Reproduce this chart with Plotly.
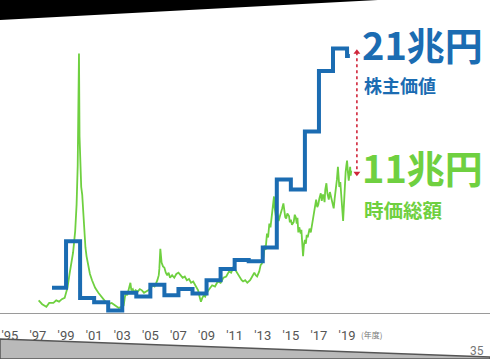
import plotly.graph_objects as go

# ---- data (兆円) ----
fiscal_years = [1998, 1999, 2000, 2001, 2002, 2003, 2004, 2005, 2006, 2007, 2008,
                2009, 2010, 2011, 2012, 2013, 2014, 2015, 2016, 2017, 2018, 2019, 2019.2]
shareholder_value = [2.0, 5.7, 1.2, 0.85, 0.2, 1.6, 1.3, 2.25, 1.4, 1.9, 1.55,
                     2.6, 3.5, 4.2, 4.1, 5.2, 10.6, 9.8, 14.4, 19.2, 21.0, 20.4, 20.4]

mcap_dates = [
    1997.05, 1997.3, 1997.6, 1997.8, 1998.1, 1998.3, 1998.5, 1998.7, 1998.9,
    1999.1, 1999.25, 1999.5, 1999.65, 1999.75, 1999.83, 1999.88, 1999.92, 1999.96,
    2000.02, 2000.08, 2000.15, 2000.22, 2000.3, 2000.38, 2000.46, 2000.58, 2000.7,
    2000.85, 2001.07, 2001.3, 2001.57, 2001.8, 2002.0, 2002.25, 2002.5, 2002.75,
    2003.0, 2003.1, 2003.18, 2003.25, 2003.35, 2003.45, 2003.52, 2003.58, 2003.65,
    2003.75, 2003.83, 2003.95, 2004.1, 2004.25, 2004.4, 2004.55, 2004.7, 2004.85,
    2005.0, 2005.15, 2005.3, 2005.42, 2005.5, 2005.6, 2005.64, 2005.71, 2005.76,
    2005.8, 2005.9, 2006.0, 2006.1, 2006.2, 2006.3, 2006.4, 2006.55, 2006.7,
    2006.85, 2007.0, 2007.15, 2007.3, 2007.45, 2007.6, 2007.75, 2007.9, 2008.05,
    2008.2, 2008.3, 2008.4, 2008.5, 2008.6, 2008.7, 2008.8, 2008.9, 2009.0,
    2009.2, 2009.4, 2009.6, 2009.8, 2010.0, 2010.2, 2010.4, 2010.6, 2010.75,
    2010.9, 2011.0, 2011.1, 2011.25, 2011.4, 2011.5, 2011.6, 2011.75, 2011.9,
    2012.0, 2012.1, 2012.25, 2012.4, 2012.5, 2012.6, 2012.75, 2012.85, 2012.93,
    2013.0, 2013.07, 2013.13, 2013.2, 2013.3, 2013.38, 2013.47, 2013.55, 2013.65,
    2013.72, 2013.8, 2013.84, 2013.87, 2013.93, 2014.0, 2014.06, 2014.13, 2014.2,
    2014.3, 2014.38, 2014.47, 2014.53, 2014.6, 2014.67, 2014.75, 2014.87, 2014.93,
    2015.0, 2015.08, 2015.2, 2015.28, 2015.35, 2015.42, 2015.47, 2015.53, 2015.6,
    2015.7, 2015.75, 2015.8, 2015.87, 2015.93, 2016.0, 2016.07, 2016.13, 2016.2,
    2016.27, 2016.33, 2016.42, 2016.53, 2016.6, 2016.65, 2016.72, 2016.8, 2016.88,
    2016.95, 2017.03, 2017.13, 2017.2, 2017.27, 2017.33, 2017.4, 2017.45, 2017.53,
    2017.6, 2017.7, 2017.78, 2017.87, 2017.95, 2018.05, 2018.12, 2018.2, 2018.28,
    2018.35, 2018.4, 2018.45, 2018.52, 2018.6, 2018.66, 2018.72, 2018.76, 2018.8,
    2018.85, 2018.9, 2018.95, 2019.0, 2019.06, 2019.12, 2019.17, 2019.22, 2019.26,
    2019.3]
market_cap = [
    1.0, 0.7, 0.5, 0.8, 0.8, 1.0, 0.9, 1.1, 1.2,
    2.0, 3.1, 4.8, 6.5, 8.6, 11.7, 15.0, 20.6, 14.0,
    11.5, 10.0, 9.4, 7.8, 6.4, 5.2, 4.5, 3.6, 3.1,
    2.6, 2.0, 1.6, 1.2, 0.9, 0.7, 0.8, 0.6, 0.4,
    0.5, 0.6, 1.2, 1.6, 1.4, 1.9, 2.0, 2.4, 1.8,
    1.9, 1.6, 1.8, 1.7, 1.9, 1.8, 1.6, 1.7, 1.8,
    1.9, 2.2, 2.1, 2.4, 2.6, 3.0, 3.5, 5.1, 4.2,
    4.0, 3.7, 3.6, 3.2, 3.0, 3.2, 2.8, 3.0, 2.8,
    3.1, 3.2, 3.0, 2.8, 2.9, 2.6, 2.7, 2.4, 2.5,
    2.2, 2.0, 1.8, 1.3, 0.9, 1.2, 1.4, 1.3, 1.6,
    1.9, 2.2, 2.1, 2.5, 2.4, 2.8, 2.9, 3.3, 3.2,
    3.6, 3.5, 3.3, 3.0, 2.8, 2.6, 2.5, 2.6, 2.4,
    2.5, 2.6, 2.9, 3.2, 3.0, 2.9, 3.3, 3.8, 3.9,
    4.1, 4.6, 5.35, 5.0, 6.3, 6.0, 7.1, 6.8, 8.0,
    8.6, 9.25, 8.4, 8.2, 7.5, 7.2, 7.8, 7.3, 7.6,
    7.9, 8.3, 8.7, 7.9, 7.6, 7.5, 7.9, 7.7, 7.2,
    7.4, 7.0, 7.2, 7.8, 7.6, 7.1, 7.55, 6.4, 6.8,
    6.3, 6.6, 5.95, 4.5, 5.4, 5.8, 5.5, 6.2, 6.0,
    6.6, 6.7, 6.4, 7.2, 7.6, 7.9, 8.5, 9.0, 8.4,
    8.6, 9.1, 9.5, 8.9, 9.4, 9.3, 8.8, 9.8, 10.3,
    9.5, 9.0, 9.6, 9.2, 8.6, 8.3, 9.1, 9.8, 10.6,
    11.6, 10.8, 10.0, 10.4, 9.3, 8.5, 7.3, 8.2, 9.5,
    10.4, 11.2, 11.7, 12.1, 11.2, 10.5, 11.0, 11.6, 10.9,
    11.3]

tick_years = [1995, 1997, 1999, 2001, 2003, 2005, 2007, 2009, 2011, 2013, 2015, 2017, 2019]
tick_text = ["'95", "'97", "'99", "'01", "'03", "'05", "'07", "'09", "'11", "'13", "'15", "'17", "'19"]

BLUE = "#1b6cb2"
GREEN = "#6fd040"
RED = "#d0263a"

W, H = 490, 359
PLOT_B = 46
PLOT_H = H - PLOT_B


def px(x):
    return x / W


def py(y):
    return (PLOT_H - y) / PLOT_H


fig = go.Figure()
fig.add_trace(go.Scatter(x=mcap_dates, y=market_cap, mode="lines",
                         line=dict(color=GREEN, width=1.8), name="時価総額"))
fig.add_trace(go.Scatter(x=fiscal_years, y=shareholder_value, mode="lines",
                         line=dict(color=BLUE, width=4, shape="hv"), name="株主価値"))

# red dotted double arrow between the two latest values
arrow_x = fiscal_years[-1] + 0.5
fig.add_trace(go.Scatter(x=[arrow_x, arrow_x],
                         y=[max(shareholder_value) - 0.3, market_cap[-1] - 0.2],
                         mode="lines+markers",
                         line=dict(color=RED, width=1.6, dash="dot"),
                         marker=dict(symbol=["triangle-up", "triangle-down"], size=6, color=RED),
                         hoverinfo="skip"))

CJK = "Noto Sans CJK JP"
annotations = [
    dict(text="21兆円", x=px(362), y=py(71), yanchor="bottom",
         font=dict(size=38, color=BLUE, family=CJK, weight=700)),
    dict(text="株主価値", x=px(364), y=py(72), yanchor="top",
         font=dict(size=18, color=BLUE, family=CJK, weight=700)),
    dict(text="11兆円", x=px(362), y=py(194), yanchor="bottom",
         font=dict(size=38, color=GREEN, family=CJK, weight=700)),
    dict(text="時価総額", x=px(364), y=py(195), yanchor="top",
         font=dict(size=19.5, color=GREEN, family=CJK, weight=700)),
    dict(text="(年度)", x=px(361), y=py(334), yanchor="middle",
         font=dict(size=8, color="#777", family=CJK)),
    dict(text="35", x=px(470), y=py(351), yanchor="middle",
         font=dict(size=12, color="#777", family="Roboto")),
]
for a in annotations:
    a.update(xref="paper", yref="paper", xanchor="left", align="left",
             showarrow=False, borderpad=0, borderwidth=0)

shapes = [
    # dark band of the photo at the top-left
    dict(type="path", xref="paper", yref="paper",
         path=f"M 0 1 L {px(378)} 1 L 0 {py(20)} Z",
         fillcolor="#000000", line=dict(width=0), layer="above"),
    # blurred edge of the photographed slide at the bottom
    dict(type="path", xref="paper", yref="paper",
         path=f"M 0 {py(339)} L 1 {py(357)} L 1 {py(359)} L 0 {py(359)} Z",
         fillcolor="#b9b9b9", line=dict(color="#555555", width=1.5), layer="above"),
]

fig.update_layout(
    width=W, height=H,
    margin=dict(l=0, r=0, t=0, b=PLOT_B),
    paper_bgcolor="white", plot_bgcolor="white",
    showlegend=False,
    annotations=annotations,
    shapes=shapes,
    xaxis=dict(range=[1998 - 52 / 14.05, 1998 + (W - 52) / 14.05],
               tickvals=tick_years, ticktext=tick_text,
               showgrid=False, zeroline=False,
               showline=True, linecolor="#9a9a9a", linewidth=1,
               ticks="", ticklabelstandoff=10,
               tickfont=dict(size=13, color="#555", family="Roboto")),
    yaxis=dict(range=[0, PLOT_H / 12.6], visible=False, showgrid=False, zeroline=False),
)

fig.write_html("out.html")
